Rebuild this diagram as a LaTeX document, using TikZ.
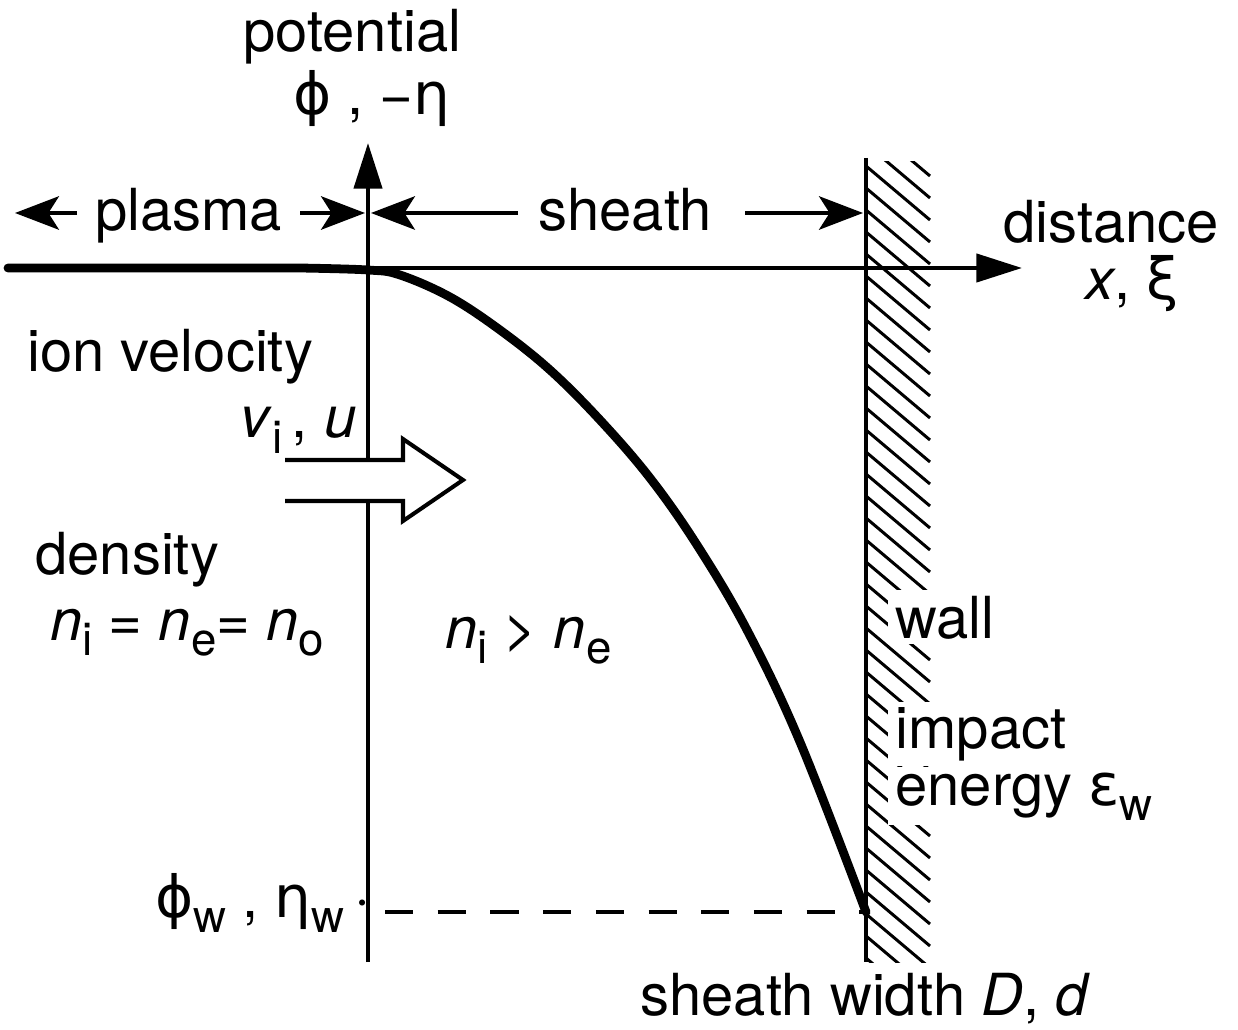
\documentclass[tikz,border=0pt]{standalone}
\usepackage{fontspec}
\setmainfont{TeX Gyre Heros}
\newfontfamily\gk{DejaVu Sans}
\usetikzlibrary{arrows.meta}
\newcommand{\lsub}[1]{\raisebox{-0.5ex}{\fontsize{26}{30}\selectfont #1}}
\tikzset{
  lbl/.style={inner sep=0pt, anchor=base west, font=\fontsize{33}{40}\selectfont},
  axisline/.style={line width=2.3pt, -{Triangle[length=26pt,width=16pt]}},
  dimarrow/.style={line width=2.3pt, -{Stealth[length=25pt,width=19pt,inset=6pt]}},
  wallline/.style={line width=2.6pt},
  hatchline/.style={line width=1.7pt},
  potcurve/.style={line width=5pt, line cap=round, line join=round},
  wallpot/.style={line width=2.3pt, dash pattern=on 16pt off 14pt},
  flowarrow/.style={line width=2.3pt, line join=miter},
}
\begin{document}
\begin{tikzpicture}[x=0.02cm,y=-0.02cm]
\useasboundingbox (0,0) rectangle (1238,1030);

% coordinates
\coordinate (O) at (368,268);
\coordinate (vbot) at (368,962);
\coordinate (vtop) at (368,143);
\coordinate (hend) at (1022,268);
\coordinate (wtop) at (866,158);
\coordinate (wbot) at (866,962);
\coordinate (wpt) at (866,912);
\coordinate (dstart) at (385,912);

% hatching of the wall
\begin{scope}
  \clip (866,162) rectangle (932,962);
  \foreach \yy in {100,122,...,990}
    \draw[hatchline] (866,\yy) -- ++(64,54);
\end{scope}

% axes
\draw[axisline] (vbot) -- (vtop);
\draw[axisline] (O) -- (hend);
% wall
\draw[wallline] (wtop) -- (wbot);

% potential curve
\draw[potcurve] (8,268) -- (300,268)
  plot[smooth, tension=0.6] coordinates {(300,268) (368,270) (400,275) (450,297) (500,330) (550,370) (600,420) (650,478) (697,545) (747,630) (800,742) (866,912)};

% dashed wall potential
\draw[wallpot] (dstart) -- (wpt);

% plasma / sheath dimension arrows
\coordinate (pl1) at (77,213);
\coordinate (pl1t) at (15,213);
\coordinate (pl2) at (300,213);
\coordinate (pl2t) at (365,213);
\coordinate (sh1) at (518,213);
\coordinate (sh1t) at (371,213);
\coordinate (sh2) at (745,213);
\coordinate (sh2t) at (863,213);
\draw[dimarrow] (pl1) -- (pl1t);
\draw[dimarrow] (pl2) -- (pl2t);
\draw[dimarrow] (sh1) -- (sh1t);
\draw[dimarrow] (sh2) -- (sh2t);

% hollow ion flow arrow
\fill[white] (285,460) -- (403,460) -- (403,439) -- (463,480) -- (403,521) -- (403,501) -- (285,501) -- cycle;
\draw[flowarrow] (285,460) -- (403,460) -- (403,439) -- (463,480) -- (403,521) -- (403,501) -- (285,501);

% labels
\node[lbl] (potential) at (243,52) {potential};
\node[lbl] (phieta) at (293,115) {{\gk ϕ} , −{\gk η}};
\node[lbl] (plasma) at (95,231) {plasma};
\node[lbl] (sheath) at (538,231) {sheath};
\node[lbl] (distance) at (1003,243) {distance};
\node[lbl] (xxi) at (1085,300) {\textit{x}, {\gk ξ}};
\node[lbl] (ionvel) at (27,372) {ion velocity};
\node[lbl] (viu) at (240,438) {\textit{v}\lsub{i}\,, \textit{u}};
\node[lbl] (density) at (35,575) {density};
\node[lbl] (ndens) at (50,640) {\textit{n}\lsub{i} = \textit{n}\lsub{e}= \textit{n}\lsub{o}};
\node[lbl] (ngt) at (445,648) {\textit{n}\lsub{i} > \textit{n}\lsub{e}};
\node[lbl, fill=white, inner xsep=4pt, inner ysep=3pt] (wall) at (888,638) {wall};
\node[lbl, fill=white, inner xsep=4pt, inner ysep=3pt] (impact) at (888,748) {impact};
\node[lbl, fill=white, inner xsep=4pt, inner ysep=3pt] (energy) at (888,805) {energy {\gk ε}\lsub{w}};
\node[lbl] (phiw) at (155,917) {{\gk ϕ}\lsub{w} , {\gk η}\lsub{w}\,·};
\node[lbl] (swidth) at (640,1015) {sheath width \textit{D}, \textit{d}};
\end{tikzpicture}
\end{document}
